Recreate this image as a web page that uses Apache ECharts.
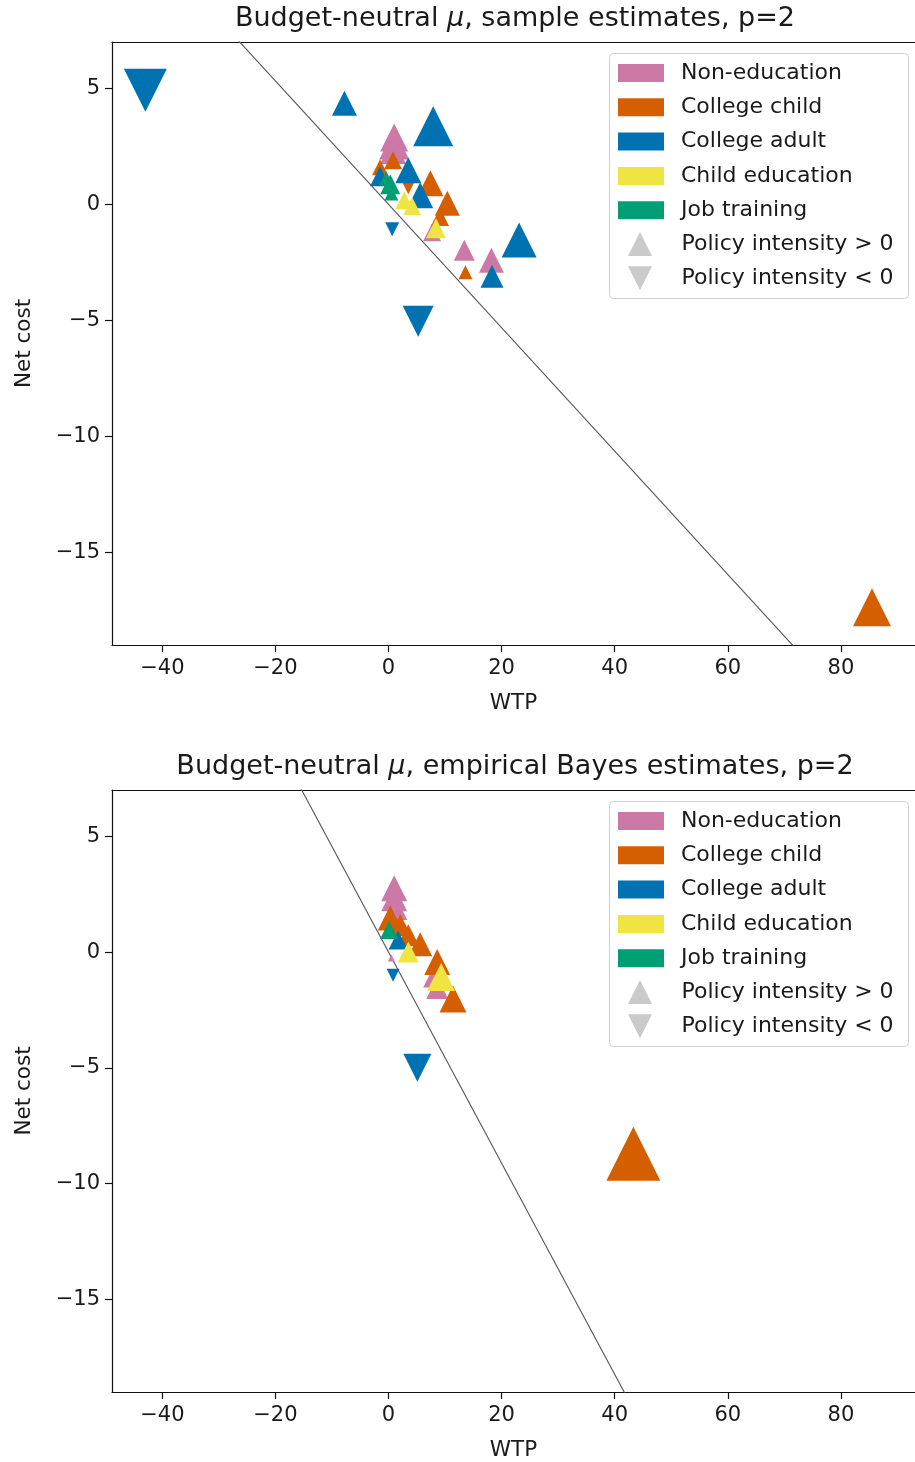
<!DOCTYPE html>
<html><head><meta charset="utf-8">
<script src="https://cdn.jsdelivr.net/npm/echarts@6/dist/echarts.min.js"></script>
<style>html,body{margin:0;padding:0;background:#fff}#c{width:915px;height:1462px}</style>
</head><body><div id="c"></div>
<script>
const categories = ['Non-education', 'College child', 'College adult', 'Child education', 'Job training'];
const colors = ['#CC79A7', '#D55E00', '#0072B2', '#F0E442', '#009E73'];
const titles = ['Budget-neutral {m|μ}, sample estimates, p=2', 'Budget-neutral {m|μ}, empirical Bayes estimates, p=2'];
const xTickValues = [-40, -20, 0, 20, 40, 60, 80];
const yTickValues = [-15, -10, -5, 0, 5];
const xRange = [-48.9, 93.1];
const yRange = [-19, 7];
// slope of the budget-neutral line (net cost = slope * WTP) per panel
const lineSlopes = [-0.266, -0.456];

// each point: [WTP, net cost, policy intensity] (sign -> direction, magnitude -> marker size)
const sampleNonEducation = [[1.0, 2.88, 2.8], [1.0, 2.58, 3.0], [0.8, 2.3, 2.6], [13.4, -1.98, 2.1], [18.2, -2.41, 2.5], [7.7, -1.2, 1.8]];
const sampleCollegeChild = [[-1.5, 1.6, 1.6], [0.8, 1.9, 1.8], [3.5, 0.74, -1.4], [7.4, 0.91, 2.6], [10.4, 0.05, 2.5], [9.1, -0.55, 1.8], [13.6, -2.93, 1.4], [85.5, -17.37, 3.8]];
const sampleCollegeAdult = [[-43.0, 4.92, -4.3], [-7.8, 4.36, 2.5], [7.9, 3.37, 4.0], [3.5, 1.47, 2.6], [-1.5, 1.21, 2.0], [5.6, 0.39, 2.6], [0.65, -1.07, -1.4], [5.25, -5.04, -3.1], [23.1, -1.54, 3.5], [18.3, -3.1, 2.3]];
const sampleChildEducation = [[2.8, 0.18, 1.8], [4.2, -0.08, 1.8], [8.4, -1.03, 2.0]];
const sampleJobTraining = [[-0.4, 1.13, 1.4], [0.3, 0.87, 2.0], [0.5, 0.47, 1.4]];

const ebNonEducation = [[1.0, 2.76, 2.6], [1.0, 2.33, 2.6], [1.2, 1.9, 2.4], [0.5, -0.26, 0.7], [7.9, -1.1, 2.0], [8.6, -1.55, 2.2]];
const ebCollegeChild = [[0.3, 1.47, 2.5], [2.1, 1.16, 2.2], [3.5, 0.73, 2.2], [5.6, 0.34, 2.4], [8.6, -0.43, 2.6], [11.4, -2.03, 2.7], [43.3, -8.71, 5.4]];
const ebCollegeAdult = [[1.7, 0.52, 1.9], [0.8, -1.0, -1.3], [5.1, -5.0, -2.8]];
const ebChildEducation = [[3.5, 0.0, 2.1], [9.3, -1.08, 2.8]];
const ebJobTraining = [[0.1, 0.95, 1.8]];

const panels = [
  [sampleNonEducation, sampleCollegeChild, sampleCollegeAdult, sampleChildEducation, sampleJobTraining],
  [ebNonEducation, ebCollegeChild, ebCollegeAdult, ebChildEducation, ebJobTraining]
];

const FONT = 'DejaVu Sans';
const TXT = '#1a1a1a';
const gridTops = [42, 790];
const gridH = 603;
const fmt = v => String(v).replace('-', '\u2212');
const spine = { color: '#111', width: 1.2 };

const grids = gridTops.map(t => ({ left: 112, top: t, height: gridH, right: 0, show: false }));
const xAxes = [0, 1].map(i => ({
  type: 'value', gridIndex: i, min: xRange[0], max: xRange[1], position: 'bottom',
  name: 'WTP', nameLocation: 'middle', nameGap: 47,
  nameTextStyle: { fontFamily: FONT, fontSize: 21.5, color: TXT },
  axisLine: { show: true, onZero: false, lineStyle: spine },
  axisTick: { show: true, length: 7, lineStyle: spine, customValues: xTickValues },
  axisLabel: { fontFamily: FONT, fontSize: 21, color: TXT, margin: 13, formatter: fmt, customValues: xTickValues },
  splitLine: { show: false }
})).concat([0, 1].map(i => ({
  type: 'value', gridIndex: i, min: xRange[0], max: xRange[1], position: 'top',
  axisLine: { show: true, onZero: false, lineStyle: spine },
  axisTick: { show: false }, axisLabel: { show: false }, splitLine: { show: false }
})));
const yAxes = [0, 1].map(i => ({
  type: 'value', gridIndex: i, min: yRange[0], max: yRange[1],
  name: 'Net cost', nameLocation: 'middle', nameGap: 77, nameRotate: 90,
  nameTextStyle: { fontFamily: FONT, fontSize: 21.5, color: TXT },
  axisLine: { show: true, onZero: false, lineStyle: spine },
  axisTick: { show: true, length: 7, lineStyle: spine, customValues: yTickValues },
  axisLabel: { fontFamily: FONT, fontSize: 21, color: TXT, margin: 12, formatter: fmt, customValues: yTickValues },
  splitLine: { show: false }
}));

const series = [];
[0, 1].forEach(p => {
  const s = lineSlopes[p];
  series.push({
    type: 'line', xAxisIndex: p, yAxisIndex: p, silent: true, showSymbol: false, symbol: 'none',
    data: [[-80, -80 * s], [140, 140 * s]], clip: true,
    lineStyle: { color: '#555', width: 1.1 }, z: 1
  });
  panels[p].forEach((pts, c) => {
    series.push({
      type: 'scatter', name: categories[c], xAxisIndex: p, yAxisIndex: p,
      symbol: 'triangle',
      itemStyle: { color: colors[c], opacity: 1 },
      z: 2 + c,
      data: pts.map(d => ({
        value: d,
        symbolSize: Math.abs(d[2]) * 10,
        symbolRotate: d[2] < 0 ? 180 : 0
      }))
    });
  });
});
series.push({ type: 'scatter', name: 'Policy intensity > 0', data: [], itemStyle: { color: '#bdbdbd' } });
series.push({ type: 'scatter', name: 'Policy intensity < 0', data: [], itemStyle: { color: '#bdbdbd' } });

const legendBoxes = [53, 801];
const legends = [];
const graphics = [];
legendBoxes.forEach(top => {
  graphics.push({ type: 'rect', left: 609, top: top, z: 3, shape: { width: 299, height: 245, r: 4 }, style: { fill: 'rgba(255,255,255,0.85)', stroke: '#cfcfcf', lineWidth: 1 } });
  legends.push({
    orient: 'vertical', left: 618, top: top + 9, padding: 0, itemWidth: 46, itemHeight: 18, itemGap: 12.3,
    selectedMode: false,
    textStyle: { fontFamily: FONT, fontSize: 22, color: TXT, lineHeight: 22, padding: [0, 0, 0, 12] },
    data: categories.map(n => ({ name: n, icon: 'rect' }))
  });
  legends.push({
    orient: 'vertical', left: 628, top: top + 179, padding: 0, itemWidth: 25, itemHeight: 24, itemGap: 10.3,
    selectedMode: false,
    textStyle: { fontFamily: FONT, fontSize: 22, color: TXT, lineHeight: 22, padding: [0, 0, 0, 24] },
    data: [{ name: 'Policy intensity > 0', icon: 'path://M1,0 L2,2 L0,2 Z' }, { name: 'Policy intensity < 0', icon: 'path://M0,0 L2,0 L1,2 Z' }]
  });
});

const chart = echarts.init(document.getElementById('c'), null, { renderer: 'canvas' });
chart.setOption({
  animation: false,
  backgroundColor: '#fff',
  title: titles.map((t, i) => ({
    text: t, left: 515, textAlign: 'center', top: gridTops[i] - 37, padding: 0,
    textStyle: { fontFamily: FONT, fontSize: 27, fontWeight: 'normal', color: TXT, rich: { m: { fontFamily: FONT, fontSize: 27, fontStyle: 'italic', color: TXT } } }
  })),
  grid: grids, xAxis: xAxes, yAxis: yAxes,
  legend: legends,
  graphic: graphics,
  series: series
});
</script></body></html>
